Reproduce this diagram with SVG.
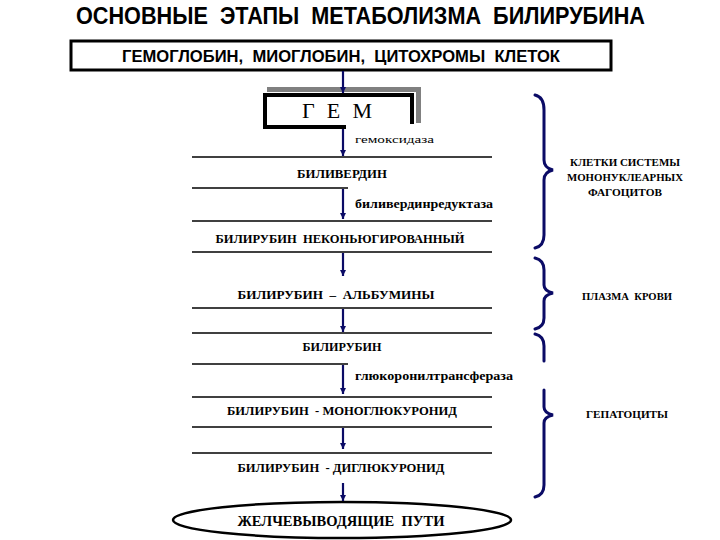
<svg xmlns="http://www.w3.org/2000/svg" width="720" height="540" viewBox="0 0 720 540">
<defs>
<marker id="ah" viewBox="0 0 10 10" refX="10" refY="5" markerWidth="6" markerHeight="6" orient="auto" markerUnits="userSpaceOnUse">
<path d="M0,0 L10,5 L0,10 z" fill="#0b0b66"/>
</marker>
<style>
text{white-space:pre}
.title{font-family:"Liberation Sans","DejaVu Sans",sans-serif;font-weight:bold;fill:#000}
.lbl{font-family:"Liberation Serif","DejaVu Serif",serif;font-weight:bold;fill:#000;text-anchor:middle}
.enz{font-family:"Liberation Serif","DejaVu Serif",serif;font-weight:bold;fill:#000}
.hl{stroke:#000;stroke-width:1.3;fill:none}
.arr{stroke:#0b0b66;stroke-width:2.2;fill:none}
.brace{stroke:#0b0b66;stroke-width:3;fill:none;stroke-linecap:round}
</style>
</defs>
<rect width="720" height="540" fill="#fff"/>
<text class="title" x="76" y="24" font-size="23" textLength="569" lengthAdjust="spacingAndGlyphs">ОСНОВНЫЕ  ЭТАПЫ  МЕТАБОЛИЗМА  БИЛИРУБИНА</text>

<g id="sources">
<rect x="71" y="41" width="540" height="29" fill="#fff" stroke="#000" stroke-width="3"/>
<text class="title" x="122" y="62" font-size="17" textLength="438" lengthAdjust="spacingAndGlyphs">ГЕМОГЛОБИН,  МИОГЛОБИН,  ЦИТОХРОМЫ  КЛЕТОК</text>
</g>

<g id="heme">
<path d="M267,89.5 H418.5 V123" fill="none" stroke="#808080" stroke-width="5"/>
<rect x="265" y="95" width="147" height="32" fill="#fff" stroke="#000" stroke-width="4"/>
<rect x="346" y="124" width="80" height="12" fill="#fff"/>
<text class="lbl" x="337" y="118" font-size="22" textLength="70" lengthAdjust="spacing" style="font-weight:normal">Г Е М</text>
</g>

<g id="lines">
<line class="hl" x1="192" y1="157" x2="492" y2="157"/>
<line class="hl" x1="192" y1="188" x2="348" y2="188"/>
<line class="hl" x1="192" y1="221" x2="492" y2="221"/>
<line class="hl" x1="192" y1="252" x2="492" y2="252"/>
<line class="hl" x1="192" y1="308" x2="492" y2="308"/>
<line class="hl" x1="192" y1="333" x2="492" y2="333"/>
<line class="hl" x1="192" y1="364" x2="348" y2="364"/>
<line class="hl" x1="192" y1="397" x2="492" y2="397"/>
<line class="hl" x1="192" y1="427" x2="492" y2="427"/>
<line class="hl" x1="192" y1="453" x2="492" y2="453"/>
</g>

<g id="biliverdin"><text class="lbl" x="342" y="178" font-size="12" textLength="90" lengthAdjust="spacingAndGlyphs">БИЛИВЕРДИН</text></g>
<g id="unconj"><text class="lbl" x="340" y="243" font-size="12" textLength="249" lengthAdjust="spacingAndGlyphs">БИЛИРУБИН  НЕКОНЬЮГИРОВАННЫЙ</text></g>
<g id="albumin"><text class="lbl" x="336" y="299" font-size="12" textLength="197" lengthAdjust="spacingAndGlyphs">БИЛИРУБИН  –  АЛЬБУМИНЫ</text></g>
<g id="bilirubin"><text class="lbl" x="342" y="351" font-size="12" textLength="79" lengthAdjust="spacingAndGlyphs">БИЛИРУБИН</text></g>
<g id="mono"><text class="lbl" x="342" y="415" font-size="12" textLength="230" lengthAdjust="spacingAndGlyphs">БИЛИРУБИН  - МОНОГЛЮКУРОНИД</text></g>
<g id="di"><text class="lbl" x="341" y="472" font-size="12" textLength="207" lengthAdjust="spacingAndGlyphs">БИЛИРУБИН  - ДИГЛЮКУРОНИД</text></g>

<g id="bile">
<ellipse cx="342" cy="520" rx="169" ry="18" fill="#fff" stroke="#000" stroke-width="2.5"/>
<text class="lbl" x="341" y="526" font-size="14" textLength="207" lengthAdjust="spacingAndGlyphs">ЖЕЛЧЕВЫВОДЯЩИЕ  ПУТИ</text>
</g>

<g id="connectors">
<line class="arr" x1="343" y1="71" x2="343" y2="93" marker-end="url(#ah)"/>
<line class="arr" x1="343" y1="129" x2="343" y2="156" marker-end="url(#ah)"/>
<line class="arr" x1="343" y1="189" x2="343" y2="219" marker-end="url(#ah)"/>
<line class="arr" x1="343" y1="253" x2="343" y2="276" marker-end="url(#ah)"/>
<line class="arr" x1="343" y1="309" x2="343" y2="332" marker-end="url(#ah)"/>
<line class="arr" x1="343" y1="365" x2="343" y2="394" marker-end="url(#ah)"/>
<line class="arr" x1="343" y1="428" x2="343" y2="449" marker-end="url(#ah)"/>
<line class="arr" x1="343" y1="483" x2="343" y2="501" marker-end="url(#ah)"/>
</g>

<g id="enzymes">
<text class="enz" x="355" y="143" font-size="11" textLength="79" lengthAdjust="spacingAndGlyphs" style="font-weight:normal">гемоксидаза</text>
<text class="enz" x="355" y="208" font-size="13" textLength="138" lengthAdjust="spacingAndGlyphs">биливердинредуктаза</text>
<text class="enz" x="355" y="380" font-size="13" textLength="158" lengthAdjust="spacingAndGlyphs">глюкоронилтрансфераза</text>
</g>

<g id="brace-mph">
<path class="brace" d="M535,95 Q544,97 544,110 V160 Q544,168 553,170 Q544,172 544,180 V235 Q544,246 535,248"/>
<text class="lbl" x="625" y="166" font-size="10" textLength="110" lengthAdjust="spacingAndGlyphs">КЛЕТКИ СИСТЕМЫ</text>
<text class="lbl" x="625" y="181" font-size="10" textLength="116" lengthAdjust="spacingAndGlyphs">МОНОНУКЛЕАРНЫХ</text>
<text class="lbl" x="625" y="196" font-size="10" textLength="74" lengthAdjust="spacingAndGlyphs">ФАГОЦИТОВ</text>
</g>
<g id="brace-plasma">
<path class="brace" d="M535,258 Q544,260 544,270 V285 Q544,291 553,293 Q544,295 544,301 V318 Q544,327 535,329"/>
<text class="lbl" x="627" y="300" font-size="11" textLength="90" lengthAdjust="spacingAndGlyphs">ПЛАЗМА  КРОВИ</text>
</g>
<g id="brace-hep">
<path class="brace" d="M535,334 Q544,336 544,346 V361"/>
<path class="brace" d="M544,390 V407 Q544,413 553,415 Q544,417 544,423 V485 Q544,495 535,497"/>
<text class="lbl" x="627" y="418" font-size="11" textLength="82" lengthAdjust="spacingAndGlyphs">ГЕПАТОЦИТЫ</text>
</g>
</svg>
